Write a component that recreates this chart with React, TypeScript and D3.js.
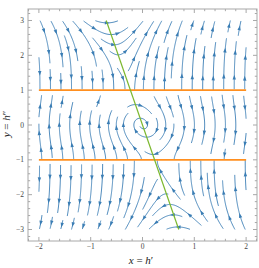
import React from "react";
import * as d3 from "d3";

const W = 259;
const H = 268;

// axes
const xTicks = [-2, -1, 0, 1, 2];
const yTicks = [-3, -2, -1, 0, 1, 2, 3];
const xDomain = [-2.21, 2.21];
const yDomain = [-3.33, 3.33];

// region the streams are drawn in
const streamX = [-2, 2];
const streamY = [-3, 3];

// orange lines (singular lines y = ±1) and green nullcline
const singularY = [-1, 1];
const lineX = [-2, 2];
const nullX = [-0.7, 0.7];
const nullY = [3, -3];

// field parameters: x' = y / k, y' = -(x + c y) / (1 - y^2)
const damping = 0.233;
const kInner = 2.2;
const kOuter = 60;

const field = (x: number, y: number) => {
  const k = Math.abs(y) < 1 ? kInner : kOuter;
  return [y / k, -(x + damping * y) / (1 - y * y)];
};

const xs = d3.scaleLinear().domain(xDomain).range([28, 257]);
const ys = d3.scaleLinear().domain(yDomain).range([241, 9]);
const sx = xs(1) - xs(0);
const sy = ys(0) - ys(1);

const dirAt = (px: number, py: number) => {
  const [u, v] = field(xs.invert(px), ys.invert(py));
  const dx = u * sx;
  const dy = -v * sy;
  const n = Math.hypot(dx, dy);
  if (!isFinite(n) || n < 1e-12) return null;
  return [dx / n, dy / n];
};

type Pt = [number, number, number];

function computeStreams() {
  const dsep = 10.5;
  const dtest = 5.8;
  const step = 1;
  const maxLen = 84;
  const bx0 = xs(streamX[0]), bx1 = xs(streamX[1]);
  const by0 = ys(streamY[1]), by1 = ys(streamY[0]);
  const inBox = (x: number, y: number) => x >= bx0 && x <= bx1 && y >= by0 && y <= by1;
  const region = (py: number) => {
    const y = ys.invert(py);
    return y > 1 ? 2 : y > -1 ? 1 : 0;
  };
  const cx = xs(0), cy = ys(0);

  const makeGrid = () => new Map<string, Pt[]>();
  const add = (g: Map<string, Pt[]>, p: Pt) => {
    const k = Math.floor(p[0] / dsep) + "," + Math.floor(p[1] / dsep);
    const a = g.get(k);
    if (a) a.push(p); else g.set(k, [p]);
  };
  const near = (g: Map<string, Pt[]>, x: number, y: number, d: number, s?: number) => {
    const i = Math.floor(x / dsep), j = Math.floor(y / dsep);
    for (let di = -1; di <= 1; di++)
      for (let dj = -1; dj <= 1; dj++) {
        const a = g.get(i + di + "," + (j + dj));
        if (!a) continue;
        for (const p of a) {
          if (s !== undefined && Math.abs(p[2] - s) < 3 * dsep) continue;
          if ((p[0] - x) ** 2 + (p[1] - y) ** 2 < d * d) return true;
        }
      }
    return false;
  };

  const grid = makeGrid();
  const streams: number[][][] = [];

  const trace = (x0: number, y0: number, sgn: number, own: Map<string, Pt[]>) => {
    const pts: Pt[] = [];
    const reg = region(y0);
    let x = x0, y = y0, s = 0;
    while (s < maxLen / 2) {
      const d1 = dirAt(x, y);
      if (!d1) break;
      const d2 = dirAt(x + sgn * d1[0] * step / 2, y + sgn * d1[1] * step / 2);
      if (!d2) break;
      if (d1[0] * d2[0] + d1[1] * d2[1] < 0.5) break;
      const nx = x + sgn * d2[0] * step;
      const ny = y + sgn * d2[1] * step;
      if (!inBox(nx, ny)) break;
      if (region(ny) !== reg) break;
      if (near(grid, nx, ny, dtest)) break;
      s += step;
      if (near(own, nx, ny, dtest, sgn * s)) break;
      if (Math.hypot(nx - cx, ny - cy) < 2) break;
      const p: Pt = [nx, ny, sgn * s];
      pts.push(p);
      add(own, p);
      x = nx;
      y = ny;
    }
    return pts;
  };

  const okSeed = (x: number, y: number) => {
    if (!inBox(x, y)) return false;
    for (const v of singularY) if (Math.abs(y - ys(v)) < 2) return false;
    if (!dirAt(x, y)) return false;
    return !near(grid, x, y, dsep);
  };

  const queue: number[][] = [];
  const grow = (x: number, y: number) => {
    const own = makeGrid();
    const seed: Pt = [x, y, 0];
    add(own, seed);
    const fw = trace(x, y, 1, own);
    const bw = trace(x, y, -1, own);
    const line = [...bw.reverse(), seed, ...fw];
    if (line.length < 8) return;
    line.forEach((p) => add(grid, p));
    streams.push(line.map((p) => [p[0], p[1]]));
    for (let i = 2; i < line.length - 2; i += 4) {
      const tx = line[i + 1][0] - line[i - 1][0];
      const ty = line[i + 1][1] - line[i - 1][1];
      const n = Math.hypot(tx, ty) || 1;
      queue.push([line[i][0] - (ty / n) * dsep, line[i][1] + (tx / n) * dsep]);
      queue.push([line[i][0] + (ty / n) * dsep, line[i][1] - (tx / n) * dsep]);
    }
  };

  const flush = () => {
    while (queue.length) {
      const [x, y] = queue.shift()!;
      if (okSeed(x, y)) grow(x, y);
    }
  };

  const g = dsep / 2;
  for (let y = by0 + 2; y <= by1; y += g)
    for (let x = bx0 + 2; x <= bx1; x += g) {
      if (okSeed(x, y)) {
        grow(x, y);
        flush();
      }
    }
  return streams;
}

function arrowHeads(line: number[][]) {
  const acc = [0];
  for (let i = 1; i < line.length; i++)
    acc.push(acc[i - 1] + Math.hypot(line[i][0] - line[i - 1][0], line[i][1] - line[i - 1][1]));
  const L = acc[acc.length - 1];
  const n = Math.max(1, Math.round(L / 24));
  const heads: string[] = [];
  for (let k = 0; k < n; k++) {
    const target = ((k + 0.5) * L) / n;
    let i = acc.findIndex((a) => a >= target);
    i = Math.min(Math.max(i, 1), line.length - 2);
    const tx = line[i + 1][0] - line[i - 1][0];
    const ty = line[i + 1][1] - line[i - 1][1];
    const m = Math.hypot(tx, ty) || 1;
    const ux = tx / m, uy = ty / m;
    const [px, py] = line[i];
    const tip = [px + ux * 2.5, py + uy * 2.5];
    const b1 = [px - ux * 2.3 - uy * 1.7, py - uy * 2.3 + ux * 1.7];
    const b2 = [px - ux * 2.3 + uy * 1.7, py - uy * 2.3 - ux * 1.7];
    heads.push(`M${tip[0]},${tip[1]}L${b1[0]},${b1[1]}L${b2[0]},${b2[1]}Z`);
  }
  return heads;
}

const minorTicks = (lo: number, hi: number) => d3.range(Math.ceil(lo / 0.2), Math.floor(hi / 0.2) + 1).map((i) => i * 0.2);

export default function App() {
  const streams = React.useMemo(() => computeStreams(), []);
  const line = d3.line();
  const frame = { x0: 28, x1: 257, y0: 9, y1: 241 };
  const tickColor = "#a8a8a8";
  const streamColor = "#3a7db4";
  const serif = "'Liberation Serif', 'DejaVu Serif', serif";

  return (
    <svg width={W} height={H} style={{ position: "absolute", left: 0, top: 0 }}>
      <rect width={W} height={H} fill="white" />

      {streams.map((s, i) => (
        <g key={i}>
          <path d={line(s as [number, number][]) || ""} fill="none" stroke={streamColor} strokeWidth={0.9} />
          {arrowHeads(s).map((d, j) => (
            <path key={j} d={d} fill={streamColor} />
          ))}
        </g>
      ))}

      {singularY.map((v) => (
        <line key={v} x1={xs(lineX[0])} x2={xs(lineX[1])} y1={ys(v)} y2={ys(v)} stroke="#ff8f1f" strokeWidth={1.7} />
      ))}
      <line x1={xs(nullX[0])} y1={ys(nullY[0])} x2={xs(nullX[1])} y2={ys(nullY[1])} stroke="#7cb82f" strokeWidth={1.2} />

      {/* frame */}
      <rect x={frame.x0} y={frame.y0} width={frame.x1 - frame.x0} height={frame.y1 - frame.y0} fill="none" stroke={tickColor} strokeWidth={1} />
      {minorTicks(xDomain[0], xDomain[1]).map((v) => {
        const major = Math.abs(v - Math.round(v)) < 1e-6;
        const l = major ? 4 : 2.2;
        return (
          <g key={"x" + v}>
            <line x1={xs(v)} x2={xs(v)} y1={frame.y1} y2={frame.y1 - l} stroke={tickColor} />
            <line x1={xs(v)} x2={xs(v)} y1={frame.y0} y2={frame.y0 + l} stroke={tickColor} />
          </g>
        );
      })}
      {minorTicks(yDomain[0], yDomain[1]).map((v) => {
        const major = Math.abs(v - Math.round(v)) < 1e-6;
        const l = major ? 4 : 2.2;
        return (
          <g key={"y" + v}>
            <line x1={frame.x0} x2={frame.x0 + l} y1={ys(v)} y2={ys(v)} stroke={tickColor} />
            <line x1={frame.x1} x2={frame.x1 - l} y1={ys(v)} y2={ys(v)} stroke={tickColor} />
          </g>
        );
      })}
      {xTicks.map((v) => (
        <text key={v} x={xs(v)} y={249} fontSize={7.5} fontFamily={serif} fill="#444" textAnchor="middle">
          {v < 0 ? "\u2212" + Math.abs(v) : v}
        </text>
      ))}
      {yTicks.map((v) => (
        <text key={v} x={24} y={ys(v) + 2.6} fontSize={7.5} fontFamily={serif} fill="#444" textAnchor="end">
          {v < 0 ? "\u2212" + Math.abs(v) : v}
        </text>
      ))}

      <text x={141} y={264} fontSize={11} fontFamily={serif} textAnchor="middle" fill="#222">
        <tspan fontStyle="italic">x</tspan> = <tspan fontStyle="italic">h</tspan>′
      </text>
      <text transform={`translate(10,124) rotate(-90)`} fontSize={11} fontFamily={serif} textAnchor="middle" fill="#222">
        <tspan fontStyle="italic">y</tspan> = <tspan fontStyle="italic">h</tspan>″
      </text>
    </svg>
  );
}
